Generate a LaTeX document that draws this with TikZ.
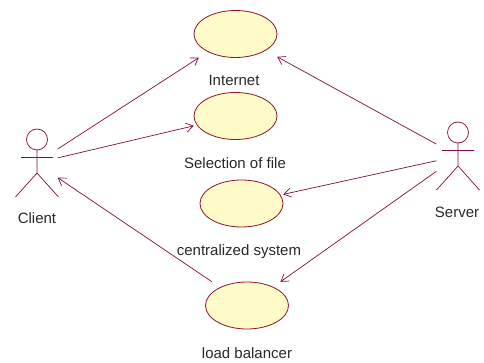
\documentclass[tikz,border=0pt]{standalone}
\usepackage{fontspec}
\setmainfont{Liberation Sans}
\usetikzlibrary{arrows.meta,shapes.geometric}
\definecolor{wire}{RGB}{128,10,70}
\definecolor{ucfill}{RGB}{255,251,200}
\definecolor{ucline}{RGB}{140,20,40}
\definecolor{txt}{RGB}{40,40,40}
\tikzset{
  ucshape/.style={ellipse, draw=ucline, fill=ucfill, line width=0.8pt,
    minimum width=83pt, minimum height=47pt, inner sep=0pt},
  ucframe/.style={rectangle, draw=none, minimum width=83pt, minimum height=47pt, inner sep=0pt},
  actorframe/.style={rectangle, draw=none, minimum width=43pt, minimum height=68pt, inner sep=0pt},
  caption/.style={text=txt, font=\fontsize{15}{17}\selectfont, inner sep=0pt},
  assoc/.style={draw=wire, line width=0.7pt, -{Straight Barb[length=7pt,width=9pt,line width=0.7pt]}},
  actor/.pic={
    \draw[wire, line width=0.7pt] (0,-23.5) circle (10.5);
    \draw[wire, line width=0.7pt] (0,-13) -- (0,10)
      (-16,-5.5) -- (16,-5.5)
      (-21.5,34) -- (0,10) -- (21.5,34);
  }
}
\begin{document}
\begin{tikzpicture}[x=1pt,y=-1pt]
  \useasboundingbox (0,0) rectangle (484,363);

  % actors
  \pic at (37,163) {actor};
  \pic at (458,156) {actor};
  \node[actorframe] (client) at (36,163) {};
  \node[actorframe] (server) at (458,156) {};
  \node[caption] (clientlbl) at (37,218) {Client};
  \node[caption] (serverlbl) at (457,212) {Server};

  % use cases
  \node[ucshape] (internetE) at (235.5,34) {};
  \node[ucframe] (internet) at (235.5,34) {};
  \node[caption] (internetlbl) at (234,80) {Internet};

  \node[ucshape] (selectE) at (235.5,116) {};
  \node[ucframe] (select) at (235.5,116) {};
  \node[caption] (selectlbl) at (235,163) {Selection of file};

  \node[ucshape] (centralE) at (241.5,203.5) {};
  \node[ucframe] (central) at (241.5,203.5) {};
  \node[caption] (centrallbl) at (239,252) {centralized system};

  \node[ucshape] (balancerE) at (247,305.5) {};
  \node[ucframe] (balancer) at (247,305.5) {};
  \node[caption] (balancerlbl) at (247,353) {load balancer};

  % associations
  \draw[assoc] (client) -- (internet);
  \draw[assoc] (client) -- (select);
  \draw[assoc] (balancer) -- (client);
  \draw[assoc] (server) -- (internet);
  \draw[assoc] (server) -- (central);
  \draw[assoc] (server) -- (balancer);
\end{tikzpicture}
\end{document}
